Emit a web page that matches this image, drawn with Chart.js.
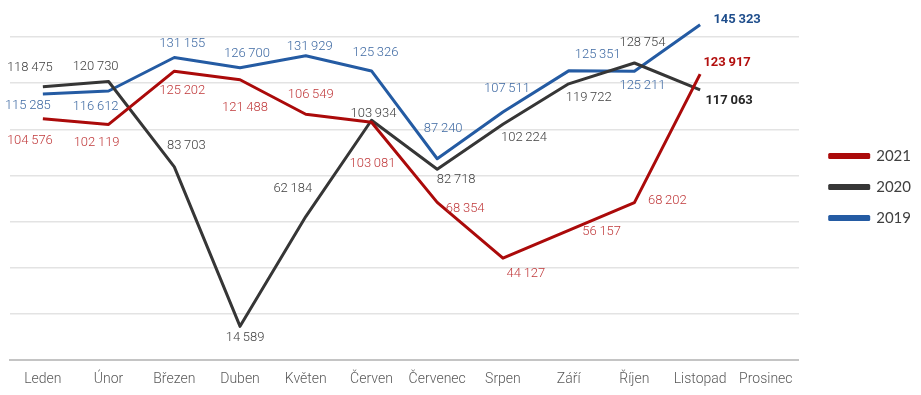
<!DOCTYPE html>
<html>
<head>
<meta charset="utf-8">
<script src="https://cdn.jsdelivr.net/npm/chart.js@4"></script>
<style>
  html, body { margin: 0; padding: 0; background: #ffffff; }
  #wrap { width: 921px; height: 395px; }
</style>
</head>
<body>
<div id="wrap"><canvas id="chart"></canvas></div>
<script>
const months = ["Leden", "Únor", "Březen", "Duben", "Květen", "Červen", "Červenec", "Srpen", "Září", "Říjen", "Listopad", "Prosinec"];
const values2021 = [104576, 102119, 125202, 121488, 106549, 103081, 68354, 44127, 56157, 68202, 123917, null];
const values2020 = [118475, 120730, 83703, 14589, 62184, 103934, 82718, 102224, 119722, 128754, 117063, null];
const values2019 = [115285, 116612, 131155, 126700, 131929, 125326, 87240, 107511, 125351, 125211, 145323, null];
const gridValues = [20000, 40000, 60000, 80000, 100000, 120000, 140000];

// where each value label sits relative to its point [dx, dy]
const labelOffsets2021 = [[-13, 22], [-12, 18], [8, 20], [5, 28], [5, -19], [1, 42], [28, 6], [23, 16], [33, 1], [33, -2], [27, -11]];
const labelOffsets2020 = [[-13, -19], [-13, -15], [12, -21], [5, 11], [-13, -28], [2, -7], [19, 11], [21, 14], [20, 14], [8, -20], [29, 11]];
const labelOffsets2019 = [[-15, 12], [-13, 16], [8, -14], [7, -14], [4, -9], [4, -18], [6, -30], [4, -23], [29, -16], [8, 15], [37, -5]];

function fmt(n) {
    return String(n).replace(/\B(?=(\d{3})+(?!\d))/g, "\u2009");
}

const valueLabels = {
    id: "valueLabels",
    afterDatasetsDraw(chart) {
        const ctx = chart.ctx;
        chart.data.datasets.forEach((ds, i) => {
            const meta = chart.getDatasetMeta(i);
            const lastIdx = ds.data.reduce((acc, v, k) => (v !== null ? k : acc), -1);
            meta.data.forEach((pt, k) => {
                const v = ds.data[k];
                if (v === null || v === undefined) return;
                const off = ds.labelOffsets[k] || [0, -12];
                const bold = k === lastIdx;
                ctx.save();
                ctx.font = (bold ? "bold " : "300 ") + "13px Roboto";
                ctx.fillStyle = bold ? ds.lastLabelColor : ds.labelColor;
                ctx.textAlign = "center";
                ctx.textBaseline = "middle";
                ctx.fillText(fmt(v), pt.x + off[0], pt.y + off[1]);
                ctx.restore();
            });
        });
    }
};

const ctx = document.getElementById("chart").getContext("2d");
new Chart(ctx, {
    type: "line",
    data: {
        labels: months,
        datasets: [
            {
                label: "2021",
                data: values2021,
                borderColor: "#ab0a0a",
                backgroundColor: "#ab0a0a",
                labelColor: "#c0393b",
                lastLabelColor: "#b3100f",
                labelOffsets: labelOffsets2021,
            },
            {
                label: "2020",
                data: values2020,
                borderColor: "#363636",
                backgroundColor: "#363636",
                labelColor: "#404040",
                lastLabelColor: "#262626",
                labelOffsets: labelOffsets2020,
            },
            {
                label: "2019",
                data: values2019,
                borderColor: "#245ba3",
                backgroundColor: "#245ba3",
                labelColor: "#3f6aa3",
                lastLabelColor: "#1f4e8c",
                labelOffsets: labelOffsets2019,
            },
        ],
    },
    options: {
        responsive: true,
        maintainAspectRatio: false,
        animation: false,
        layout: { padding: { top: 14, left: 10, right: 0, bottom: 0 } },
        elements: {
            line: { borderWidth: 3, tension: 0, borderJoinStyle: "round" },
            point: { radius: 0, hoverRadius: 0 },
        },
        plugins: {
            tooltip: { enabled: false },
            legend: {
                position: "right",
                align: "center",
                fullSize: false,
                labels: {
                    boxWidth: 39,
                    boxHeight: 3,
                    padding: 16,
                    color: "#404040",
                    font: { family: "Lato", size: 15 },
                },
            },
        },
        scales: {
            x: {
                offset: true,
                grid: { display: false, drawTicks: false },
                border: { display: true, color: "#c4c4c4", width: 2 },
                ticks: {
                    color: "#595959",
                    font: { family: "Roboto", size: 14, weight: "300" },
                    padding: 11,
                    maxRotation: 0,
                    autoSkip: false,
                },
                afterFit(scale) { scale.height = 35; },
            },
            y: {
                position: "right",
                min: 0,
                max: 150000,
                grid: {
                    drawTicks: false,
                    color: "#e3e3e3",
                    lineWidth: 1.5,
                },
                border: { display: false },
                ticks: { display: false },
                afterBuildTicks(scale) {
                    scale.ticks = gridValues.map((v) => ({ value: v }));
                },
                afterFit(scale) { scale.width = 15; },
            },
        },
    },
    plugins: [valueLabels],
});
</script>
</body>
</html>
